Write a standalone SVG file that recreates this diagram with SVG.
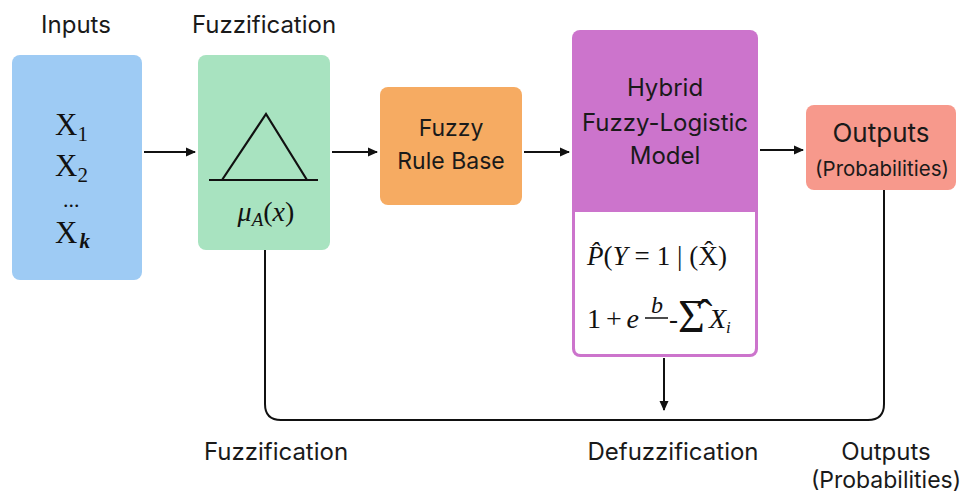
<svg xmlns="http://www.w3.org/2000/svg" width="962" height="494" viewBox="0 0 962 494">
<style>
.lbl{font-family:"Inter","Liberation Sans",sans-serif;fill:#1a1a1a;text-anchor:middle}
.math{font-family:"Liberation Serif","DejaVu Serif",serif;fill:#111}
.it{font-style:italic}
.ln{stroke:#111;stroke-width:2;fill:none}
</style>
<defs>
<marker id="ah" viewBox="0 0 10 10" refX="9" refY="5" markerWidth="10" markerHeight="10" markerUnits="userSpaceOnUse" orient="auto">
<path d="M0,0.5 L10,5 L0,9.5 z" fill="#111"/>
</marker>
</defs>
<rect width="962" height="494" fill="#fff"/>

<text class="lbl" x="76" y="33" font-size="24">Inputs</text>
<text class="lbl" x="264" y="33" font-size="24">Fuzzification</text>

<g id="inputs">
<rect x="12" y="55" width="130" height="225" rx="8" fill="#9ecbf4"/>
<text class="math" x="55" y="135" font-size="31">X<tspan font-size="21" dy="6">1</tspan></text>
<text class="math" x="55" y="176" font-size="31">X<tspan font-size="21" dy="6">2</tspan></text>
<text class="math" x="63" y="207" font-size="22">...</text>
<text class="math" x="55" y="243" font-size="31">X<tspan font-size="21" dy="5" font-style="italic" font-weight="bold" dx="2">k</tspan></text>
</g>

<g id="fuzzification">
<rect x="198" y="55" width="132" height="195" rx="8" fill="#a8e3c0"/>
<path d="M222,180 L266,114 L307,180" stroke="#111" stroke-width="2.2" fill="none"/>
<line x1="209" y1="180" x2="318" y2="180" stroke="#111" stroke-width="2.2"/>
<text class="math it" x="266" y="221" font-size="28" text-anchor="middle">μ<tspan font-size="19" dy="5">A</tspan><tspan dy="-5" font-style="normal">(</tspan>x<tspan font-style="normal">)</tspan></text>
</g>

<g id="rulebase">
<rect x="380" y="87" width="142" height="118" rx="8" fill="#f6ab62"/>
<text class="lbl" x="451" y="136" font-size="23">Fuzzy</text>
<text class="lbl" x="451" y="169" font-size="23">Rule Base</text>
</g>

<g id="hybrid">
<rect x="572" y="30" width="186" height="327" rx="8" fill="#cc74cc"/>
<path d="M575,212 H755 V348 Q755,354 749,354 H581 Q575,354 575,348 Z" fill="#fff"/>
<text class="lbl" x="665" y="96" font-size="24">Hybrid</text>
<text class="lbl" x="665" y="131" font-size="24">Fuzzy-Logistic</text>
<text class="lbl" x="665" y="164" font-size="24">Model</text>
<text class="math" x="587" y="265" font-size="27" textLength="140" lengthAdjust="spacing"><tspan class="it">P̂</tspan>(<tspan class="it">Y</tspan> = 1 | (X̂)</text>
<text class="math" x="587" y="328" font-size="28" textLength="52" lengthAdjust="spacing">1+<tspan class="it">e</tspan></text>
<text class="math it" x="657" y="313" font-size="24" text-anchor="middle">b</text>
<line x1="645" y1="318" x2="668" y2="318" stroke="#111" stroke-width="1.5"/>
<text class="math" x="669" y="328" font-size="27">-</text>
<text class="math" x="678" y="332" font-size="46">Σ̂</text>
<text class="math it" x="709" y="328" font-size="28">X<tspan font-size="17" dy="5">i</tspan></text>
</g>

<g id="outputs">
<rect x="806" y="105" width="150" height="85" rx="8" fill="#f7998c"/>
<text class="lbl" x="881" y="142" font-size="26">Outputs</text>
<text class="lbl" x="882" y="176" font-size="20.5">(Probabilities)</text>
</g>

<g id="connectors">
<line class="ln" x1="144" y1="152" x2="195" y2="152" marker-end="url(#ah)"/>
<line class="ln" x1="332" y1="152" x2="377" y2="152" marker-end="url(#ah)"/>
<line class="ln" x1="524" y1="152" x2="569" y2="152" marker-end="url(#ah)"/>
<line class="ln" x1="760" y1="150" x2="803" y2="150" marker-end="url(#ah)"/>
<path class="ln" d="M265,250 V404 Q265,420 281,420 H868 Q884,420 884,404 V190"/>
<line class="ln" x1="664" y1="358" x2="664" y2="410" marker-end="url(#ah)"/>
</g>

<text class="lbl" x="276" y="460" font-size="24">Fuzzification</text>
<text class="lbl" x="673" y="460" font-size="24">Defuzzification</text>
<text class="lbl" x="886" y="460" font-size="24">Outputs</text>
<text class="lbl" x="886" y="488" font-size="23">(Probabilities)</text>
</svg>
